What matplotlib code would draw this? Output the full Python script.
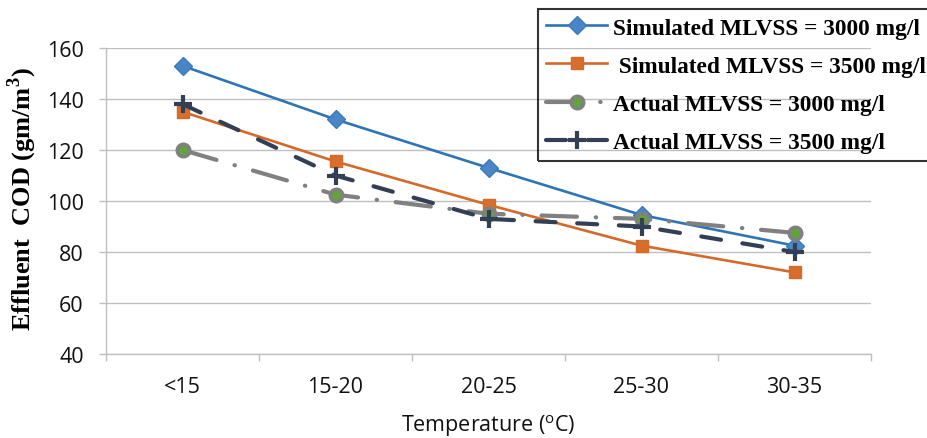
import matplotlib
matplotlib.use('Agg')
import matplotlib.pyplot as plt

# data
temps = ['<15', '15-20', '20-25', '25-30', '30-35']
sim_3000 = [153, 132, 113, 94.5, 82.5]
sim_3500 = [135, 115.5, 98.5, 82.5, 72]
act_3000 = [120, 102.5, 95, 93, 87.5]
act_3500 = [138, 110, 93, 90, 80]

labels = ['Simulated MLVSS = 3000 mg/l', ' Simulated MLVSS = 3500 mg/l',
          'Actual MLVSS = 3000 mg/l', 'Actual MLVSS = 3500 mg/l']

fig = plt.figure(figsize=(9.27, 4.39), dpi=100)
ax = fig.add_axes([106/927, 1-355/439, 765/927, 306/439])

x = range(len(temps))
grid_c = '#BFBFBF'

ax.plot(x, sim_3000, color='#2E75B6', lw=1.9, marker='D', ms=9.5,
        mfc='#4A86C5', mec='#3A7BC0', label=labels[0], zorder=3)
ax.plot(x, sim_3500, color='#D4692A', lw=1.9, marker='s', ms=9,
        mfc='#D86E2C', mec='#D4692A', label=labels[1], zorder=3)
ax.plot(x, act_3000, color='#808080', lw=3, marker='o', ms=9,
        mfc='#62A33A', mec='#808080', mew=2.5, label=labels[2],
        dashes=(8.5, 4.5, 0.1, 4.5), dash_capstyle='round', zorder=3)
ax.plot(x, act_3500, color='#323F54', lw=3, marker='+', ms=13, mew=3,
        mec='#323F54', label=labels[3],
        dashes=(4.8, 5.2), dash_capstyle='round', zorder=3)

ax.set_xlim(-0.5, 4.5)
ax.set_ylim(40, 160)
ax.set_yticks(range(40, 161, 20))
ax.grid(axis='y', color=grid_c, lw=1)
ax.set_axisbelow(True)

ax.set_xticks(list(x))
ax.set_xticklabels(temps)
ax.set_xticks([i - 0.5 for i in range(6)], minor=True)
ax.tick_params(axis='x', which='major', length=0, pad=16)
ax.tick_params(axis='x', which='minor', length=5, color=grid_c, width=1)
ax.tick_params(axis='y', length=5, color=grid_c, width=1, pad=11)
for t in ax.get_xticklabels() + ax.get_yticklabels():
    t.set_fontfamily('Open Sans')
    t.set_fontsize(15.5)
    t.set_color('#111111')

for s in ['top', 'right']:
    ax.spines[s].set_visible(False)
for s in ['left', 'bottom']:
    ax.spines[s].set_color(grid_c)
    ax.spines[s].set_linewidth(1)

ax.set_xlabel('Temperature ($^\\mathregular{o}$C)', family='Open Sans', fontsize=15.5,
              color='#111111')
ax.xaxis.set_label_coords(0.5, -0.19)
ax.set_ylabel('Effluent  COD (gm/m$^\\mathregular{3}$)', family='Liberation Serif',
              fontweight='bold', fontsize=19)
ax.yaxis.set_label_coords(-0.088, 0.51)

leg = ax.legend(loc='upper left', bbox_to_anchor=(538/927, 1-10/439),
                bbox_transform=fig.transFigure,
                prop={'family': 'Liberation Serif', 'weight': 'bold', 'size': 16.8},
                frameon=True, fancybox=False, facecolor='none', edgecolor='black',
                handlelength=2.6, handletextpad=0.25, labelspacing=0.72,
                borderpad=0.35, borderaxespad=0)
leg.get_frame().set_linewidth(1.5)

fig.savefig('out.png', dpi=100)
